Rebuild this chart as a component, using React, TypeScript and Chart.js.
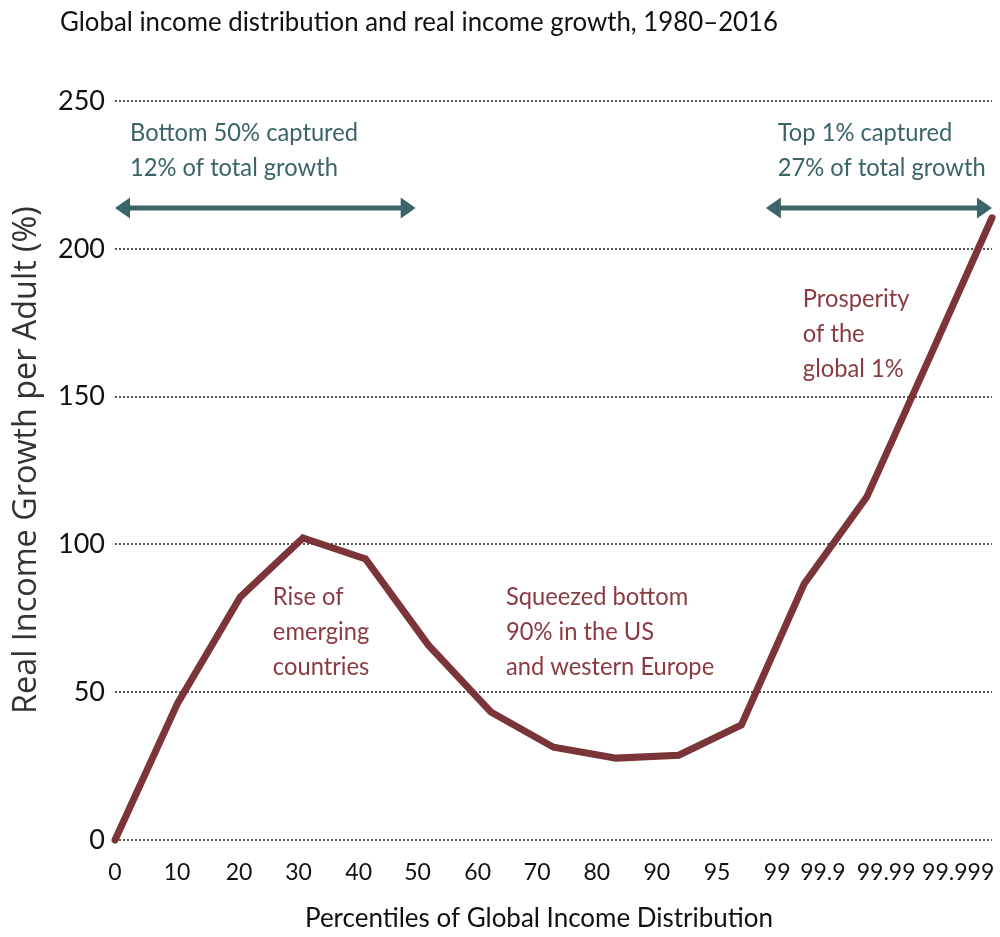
import React, { useEffect, useRef } from "react";
import { Chart, registerables } from "chart.js";

Chart.register(...registerables);

// ---------- data ----------
const percentileLabels = ["0", "10", "20", "30", "40", "50", "60", "70", "80", "90", "95", "99", "99.9", "99.99", "99.999"];
// where each tick label sits along the point index axis
const labelPositions = [0, 0.99, 1.98, 2.93, 3.89, 4.83, 5.79, 6.74, 7.69, 8.65, 9.61, 10.57, 11.3, 12.31, 13.46];
// real income growth per adult (%) at each percentile group
const growthValues = [0, 46.3, 82.2, 102.2, 95.1, 66.0, 43.3, 31.4, 27.7, 28.7, 38.9, 86.6, 116.0, 163.0, 210.5];
const yTickStep = 50;
const yMax = 250;

const titleText = "Global income distribution and real income growth, 1980–2016";
const xTitle = "Percentiles of Global Income Distribution";
const yTitle = "Real Income Growth per Adult (%)";

const tealNotes = [
  { lines: ["Bottom 50% captured", "12% of total growth"], x: 0.24, y: 239.2 },
  { lines: ["Top 1% captured", "27% of total growth"], x: 10.58, y: 239.2 },
];
const redNotes = [
  { lines: ["Rise of", "emerging", "countries"], x: 2.52, y: 82.2 },
  { lines: ["Squeezed bottom", "90% in the US", "and western Europe"], x: 6.24, y: 82.2 },
  { lines: ["Prosperity", "of the", "global 1%"], x: 10.98, y: 183.0 },
];
const arrows = [
  { from: 0, to: 4.8, y: 213.8 },
  { from: 10.39, to: 14, y: 213.8 },
];

const LINE_COLOR = "#7b3438";
const RED_TEXT = "#8a3b42";
const TEAL = "#3b6468";
const FONT = "Lato";

// horizontal squeeze factor so that `text` at `size` spans `width`
function squeeze(ctx: CanvasRenderingContext2D, text: string, width: number, size: number, family: string) {
  ctx.font = `${size}px ${family}`;
  return width / ctx.measureText(text).width;
}

function drawCondensed(
  ctx: CanvasRenderingContext2D,
  text: string,
  x: number,
  y: number,
  sx: number,
  align: CanvasTextAlign
) {
  ctx.save();
  ctx.translate(x, y);
  ctx.scale(sx, 1);
  ctx.textAlign = align;
  ctx.textBaseline = "middle";
  ctx.fillText(text, 0, 0);
  ctx.restore();
}

const annotationPlugin = {
  id: "annotations",
  afterDraw(chart: any) {
    const ctx: CanvasRenderingContext2D = chart.ctx;
    const xs = chart.scales.x;
    const ys = chart.scales.y;
    ctx.save();

    // title
    const tS = squeeze(ctx, titleText, 718, 27, FONT);
    ctx.fillStyle = "#111";
    drawCondensed(ctx, titleText, 60, 22, tS, "left");

    // y title (rotated)
    ctx.font = "100px Open Sans";
    const ySize = (100 * 508) / ctx.measureText(yTitle).width;
    ctx.save();
    ctx.translate(27, 460);
    ctx.rotate(-Math.PI / 2);
    ctx.font = `${ySize}px Open Sans`;
    ctx.fillStyle = "#333";
    ctx.textAlign = "center";
    ctx.textBaseline = "middle";
    ctx.fillText(yTitle, 0, 0);
    ctx.restore();

    // x title
    const xS = squeeze(ctx, xTitle, 468, 27, FONT);
    ctx.fillStyle = "#111";
    drawCondensed(ctx, xTitle, 539, 918, xS, "center");

    // annotations
    const noteS = squeeze(ctx, "Bottom 50% captured", 228, 25, FONT);
    ctx.font = `25px ${FONT}`;
    const lh = 35;
    ctx.fillStyle = TEAL;
    tealNotes.forEach((n) => {
      const px = xs.getPixelForValue(n.x);
      const py = ys.getPixelForValue(n.y);
      n.lines.forEach((l, i) => drawCondensed(ctx, l, px, py + i * lh, noteS, "left"));
    });
    ctx.fillStyle = RED_TEXT;
    redNotes.forEach((n) => {
      const px = xs.getPixelForValue(n.x);
      const py = ys.getPixelForValue(n.y);
      n.lines.forEach((l, i) => drawCondensed(ctx, l, px, py + i * lh, noteS, "left"));
    });

    // double-headed arrows
    ctx.strokeStyle = TEAL;
    ctx.fillStyle = TEAL;
    ctx.lineWidth = 5;
    arrows.forEach((a) => {
      const x1 = xs.getPixelForValue(a.from);
      const x2 = xs.getPixelForValue(a.to);
      const y = ys.getPixelForValue(a.y);
      const head = 15;
      const half = 10.5;
      ctx.beginPath();
      ctx.moveTo(x1 + head - 2, y);
      ctx.lineTo(x2 - head + 2, y);
      ctx.stroke();
      ctx.beginPath();
      ctx.moveTo(x1, y);
      ctx.lineTo(x1 + head, y - half);
      ctx.lineTo(x1 + head, y + half);
      ctx.closePath();
      ctx.fill();
      ctx.beginPath();
      ctx.moveTo(x2, y);
      ctx.lineTo(x2 - head, y - half);
      ctx.lineTo(x2 - head, y + half);
      ctx.closePath();
      ctx.fill();
    });
    ctx.restore();
  },
};

export default function App() {
  const ref = useRef<HTMLCanvasElement | null>(null);
  useEffect(() => {
    if (!ref.current) return;
    const chart = new Chart(ref.current, {
      type: "line",
      data: {
        datasets: [
          {
            data: growthValues.map((v, i) => ({ x: i, y: v })),
            borderColor: LINE_COLOR,
            borderWidth: 7,
            pointRadius: 0,
            tension: 0,
            borderCapStyle: "round",
            borderJoinStyle: "miter",
            clip: false as any,
          },
        ],
      },
      options: {
        animation: false,
        responsive: false,
        layout: { padding: { top: 101, right: 8, left: 0, bottom: 0 } },
        plugins: { legend: { display: false }, tooltip: { enabled: false }, title: { display: false } },
        scales: {
          x: {
            type: "linear",
            min: 0,
            max: growthValues.length - 1,
            afterBuildTicks: (s: any) => {
              s.ticks = labelPositions.map((v) => ({ value: v }));
            },
            afterFit: (s: any) => {
              s.height = 97;
              s.paddingLeft = 0;
              s.paddingRight = 0;
            },
            ticks: {
              autoSkip: false,
              maxRotation: 0,
              padding: 19,
              color: "#111",
              font: { family: FONT, size: 23 },
              callback: (_v: any, i: number) => percentileLabels[i],
            },
            grid: { display: false, drawTicks: false },
            border: { display: false },
          },
          y: {
            min: 0,
            max: yMax,
            afterFit: (s: any) => {
              s.width = 115;
              s.paddingTop = 0;
              s.paddingBottom = 0;
            },
            ticks: {
              stepSize: yTickStep,
              padding: 10,
              color: "#111",
              font: { family: FONT, size: 27 },
            },
            grid: { color: "#555", lineWidth: 2, drawTicks: false },
            border: { display: false, dash: [2, 2] },
          },
        },
      },
      plugins: [annotationPlugin],
    } as any);
    return () => chart.destroy();
  }, []);
  return (
    <div style={{ position: "absolute", left: 0, top: 0, width: 1000, height: 937, background: "#fff" }}>
      <canvas ref={ref} width={1000} height={937} />
    </div>
  );
}
